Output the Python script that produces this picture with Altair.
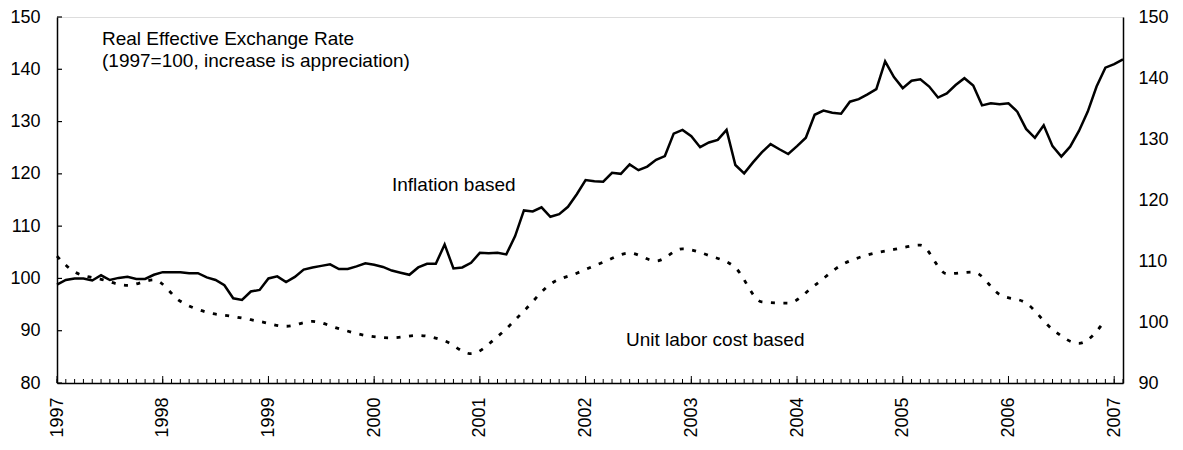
import altair as alt
import pandas as pd

# ---- data ----
# Inflation based REER, monthly Jan-1997 .. Feb-2007 (left axis)
inflation = [
    98.8, 99.7, 100.0, 100.0, 99.6, 100.6, 99.7, 100.1, 100.3, 99.9, 99.9, 100.7,
    101.2, 101.2, 101.2, 101.0, 101.0, 100.2, 99.7, 98.7, 96.2, 95.9, 97.5, 97.8,
    100.0, 100.4, 99.3, 100.3, 101.7, 102.1, 102.4, 102.7, 101.8, 101.8, 102.3, 102.9,
    102.6, 102.2, 101.5, 101.1, 100.7, 102.1, 102.8, 102.8, 106.5, 101.9, 102.1, 103.0,
    104.9, 104.8, 104.9, 104.6, 108.1, 113.0, 112.8, 113.6, 111.8, 112.3, 113.7, 116.1,
    118.8, 118.6, 118.5, 120.2, 120.0, 121.8, 120.7, 121.4, 122.7, 123.4, 127.7, 128.4,
    127.2, 125.1, 126.0, 126.5, 128.4, 121.7, 120.1, 122.2, 124.1, 125.7, 124.7, 123.8,
    125.3, 126.9, 131.3, 132.1, 131.7, 131.5, 133.8, 134.3, 135.2, 136.2, 141.5, 138.5,
    136.4, 137.8, 138.1, 136.7, 134.6, 135.4, 137.0, 138.3, 136.9, 133.1, 133.5, 133.3,
    133.5, 131.9, 128.6, 126.9, 129.3, 125.3, 123.3, 125.2, 128.2, 131.9, 136.7, 140.3,
    141.0, 141.9,
]
# Unit labor cost based REER (right axis), months since Jan-1997
ulc_months = [0, 2, 5, 8, 11, 14, 17, 20, 23, 26, 29, 32, 35, 38, 41, 44, 47, 50, 53,
              56, 59, 62, 65, 68, 71, 74, 77, 80, 83, 86, 89, 92, 95, 98, 101, 104,
              107, 110, 113, 116, 119]
ulc = [110.8, 108.2, 107.0, 106.0, 106.9, 103.4, 101.6, 100.9, 100.1, 99.3, 100.1,
       98.9, 97.8, 97.4, 97.8, 96.9, 94.8, 97.6, 101.8, 106.2, 108.0, 109.8, 111.3,
       110.0, 112.0, 110.9, 108.9, 103.3, 103.1, 106.0, 109.3, 111.0, 111.9, 112.6,
       107.9, 108.2, 104.5, 103.1, 98.8, 96.5, 100.3]
years = list(range(1997, 2008))
left_ticks = [80, 90, 100, 110, 120, 130, 140, 150]
right_ticks = [90, 100, 110, 120, 130, 140, 150]
title_lines = ["Real Effective Exchange Rate", "(1997=100, increase is appreciation)"]
series_labels = ["Inflation based", "Unit labor cost based"]

# ---- layout ----
W, H = 1066, 366
FONT = "Liberation Sans"
n = len(inflation)

df_inf = pd.DataFrame({"t": [1997 + i / 12 for i in range(n)], "v": inflation})
df_ulc = pd.DataFrame({"t": [1997 + m / 12 for m in ulc_months], "v": ulc})
df_month = pd.DataFrame({"t": [1997 + i / 12 for i in range(n)]})
df_year = pd.DataFrame({"t": years})
df_lt = pd.DataFrame({"v": left_ticks})

xs = alt.Scale(domain=[1997, 1997 + (n - 1) / 12], nice=False, zero=False)
yl = alt.Scale(domain=[80, 150], nice=False, zero=False)
yr = alt.Scale(domain=[90, 150], nice=False, zero=False)

x_axis = alt.Axis(values=years, format="d", labelAngle=-90, labelPadding=14,
                  ticks=False, tickSize=0, grid=False, domainColor="black",
                  domainWidth=1.5, labelFontSize=18, labelColor="black",
                  labelFont=FONT, title=None, labelFlush=False, labelOverlap=False)
yl_axis = alt.Axis(values=left_ticks, orient="left", ticks=False, tickSize=0, grid=False,
                   domainColor="black", domainWidth=1.5, labelFontSize=18,
                   labelColor="black", labelFont=FONT, labelPadding=17, title=None)
yr_axis = alt.Axis(values=right_ticks, orient="right", ticks=False, tickSize=0,
                   grid=False, domainColor="black", domainWidth=1.5, labelFontSize=18,
                   labelColor="black", labelFont=FONT, labelPadding=15, title=None)

inf_line = alt.Chart(df_inf).mark_line(color="black", strokeWidth=2.5).encode(
    x=alt.X("t:Q", scale=xs, axis=x_axis),
    y=alt.Y("v:Q", scale=yl, axis=yl_axis),
)

left_tick_rules = alt.Chart(df_lt).mark_rule(color="black", strokeWidth=1.2).encode(
    y=alt.Y("v:Q", scale=yl, axis=yl_axis),
    x=alt.value(0), x2=alt.value(5),
)

month_ticks = alt.Chart(df_month).mark_rule(color="black", strokeWidth=1).encode(
    x=alt.X("t:Q", scale=xs, axis=x_axis),
    y=alt.value(H), y2=alt.value(H - 4),
)
year_ticks = alt.Chart(df_year).mark_rule(color="black", strokeWidth=1).encode(
    x=alt.X("t:Q", scale=xs, axis=x_axis),
    y=alt.value(H), y2=alt.value(H - 7),
)

def label(txt, px, py):
    return alt.Chart(pd.DataFrame({"s": [txt]})).mark_text(
        align="left", baseline="alphabetic", fontSize=19, font=FONT, color="black"
    ).encode(x=alt.value(px), y=alt.value(py), text="s:N")

title1 = label(title_lines[0], 45, 27.5)
title2 = label(title_lines[1], 45, 49.5)
lab1 = label(series_labels[0], 335, 173.5)
lab2 = label(series_labels[1], 569, 329)

left = alt.layer(inf_line, left_tick_rules, month_ticks, year_ticks,
                 title1, title2, lab1, lab2)

ulc_line = alt.Chart(df_ulc).mark_line(
    color="black", strokeWidth=2.8, strokeDash=[4, 8.5], interpolate="monotone"
).encode(
    x=alt.X("t:Q", scale=xs, axis=x_axis),
    y=alt.Y("v:Q", scale=yr, axis=yr_axis),
)

chart = alt.layer(left, ulc_line).resolve_scale(y="independent").properties(
    width=W, height=H,
    autosize=alt.AutoSizeParams(type="none"),
    padding={"left": 49, "top": 9, "right": 52, "bottom": 59},
).configure_view(stroke="#808080", strokeWidth=1.5).configure(background="white")

chart.save("out.html", embed_options={"renderer": "svg", "actions": False})
